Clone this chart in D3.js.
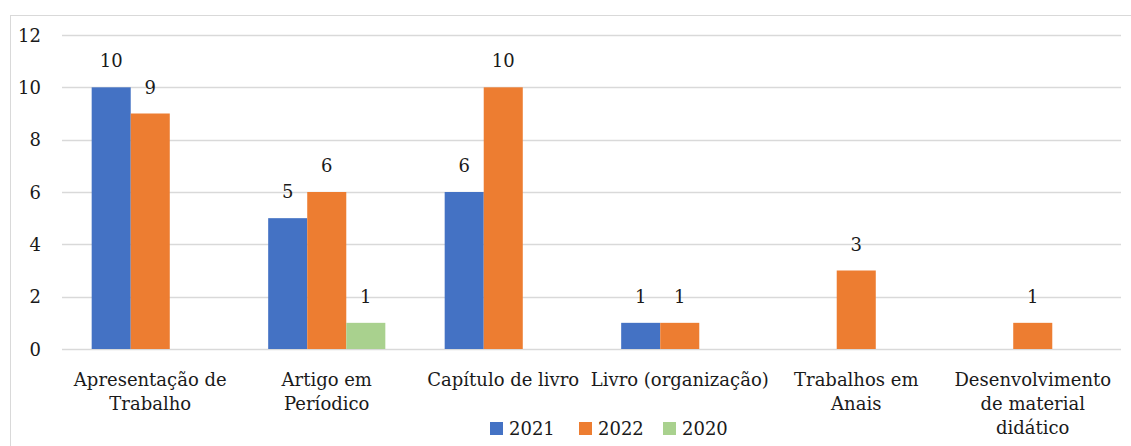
<!DOCTYPE html>
<html>
<head>
<meta charset="utf-8">
<script src="https://cdn.jsdelivr.net/npm/d3@7"></script>
<style>
  html, body { margin: 0; padding: 0; background: #fff; }
  svg text { font-family: "DejaVu Serif", "Liberation Serif", serif; fill: #1a1a1a; }
</style>
</head>
<body>
<svg id="chart" width="1131" height="446"></svg>
<script>
// Publication categories (each line of a label is a separate entry)
const categories = [
  ["Apresentação de", "Trabalho"],
  ["Artigo em", "Períodico"],
  ["Capítulo de livro"],
  ["Livro (organização)"],
  ["Trabalhos em", "Anais"],
  ["Desenvolvimento", "de material", "didático"]
];
const seriesNames = ["2021", "2022", "2020"];
const values2021 = [10, 5, 6, 1, null, null];
const values2022 = [9, 6, 10, 1, 3, 1];
const values2020 = [null, 1, null, null, null, null];
const yTicks = [0, 2, 4, 6, 8, 10, 12];
const colors = ["#4472C4", "#ED7D31", "#A9D18E"];

const seriesValues = [values2021, values2022, values2020];

const svg = d3.select("#chart");
const plot = { left: 62, right: 1121, top: 35, bottom: 349 };
const fs = "18px";

// Outer chart frame
svg.append("rect")
  .attr("x", 10.5).attr("y", 15.5)
  .attr("width", 1130).attr("height", 440)
  .attr("fill", "none").attr("stroke", "#d9d9d9").attr("stroke-width", 1);

const x = d3.scaleBand()
  .domain(d3.range(categories.length))
  .range([plot.left, plot.right]);

const x1 = d3.scaleBand()
  .domain(seriesNames)
  .range([0, x.bandwidth()])
  .paddingInner(0)
  .paddingOuter(0.76);

const y = d3.scaleLinear().domain([0, 12]).range([plot.bottom, plot.top]);

// Horizontal gridlines
svg.append("g")
  .selectAll("line")
  .data(yTicks)
  .join("line")
  .attr("x1", plot.left).attr("x2", plot.right)
  .attr("y1", d => Math.round(y(d)) + 0.5).attr("y2", d => Math.round(y(d)) + 0.5)
  .attr("stroke", "#d9d9d9").attr("stroke-width", 1.3);

// Y axis tick labels
const yAxis = d3.axisLeft(y).tickValues(yTicks).tickSize(0).tickPadding(0);
const gy = svg.append("g").attr("transform", `translate(${plot.left - 21},0)`).call(yAxis);
gy.select(".domain").remove();
gy.selectAll("text")
  .attr("text-anchor", "end")
  .attr("dy", "0.35em")
  .style("font-family", '"DejaVu Serif", serif')
  .style("font-size", fs)
  .attr("fill", "#1a1a1a");

// Bars and value labels
const groups = svg.append("g")
  .selectAll("g")
  .data(categories.map((c, i) => i))
  .join("g")
  .attr("transform", i => `translate(${x(i)},0)`);

groups.each(function(i) {
  const g = d3.select(this);
  const items = seriesNames.map((s, k) => ({ s, k, v: seriesValues[k][i] }))
    .filter(d => d.v != null);
  g.selectAll("rect")
    .data(items)
    .join("rect")
    .attr("x", d => x1(d.s))
    .attr("width", x1.bandwidth())
    .attr("y", d => y(d.v))
    .attr("height", d => y(0) - y(d.v))
    .attr("fill", d => colors[d.k]);
  g.selectAll("text.val")
    .data(items)
    .join("text")
    .attr("class", "val")
    .attr("x", d => x1(d.s) + x1.bandwidth() / 2)
    .attr("y", d => y(d.v) - 20)
    .attr("text-anchor", "middle")
    .style("font-size", fs)
    .text(d => d.v);
});

// Category labels
const cat = svg.append("g");
categories.forEach((lines, i) => {
  const t = cat.append("text")
    .attr("x", x(i) + x.bandwidth() / 2)
    .attr("y", 386)
    .attr("text-anchor", "middle")
    .style("font-size", fs);
  lines.forEach((ln, j) => {
    t.append("tspan")
      .attr("x", x(i) + x.bandwidth() / 2)
      .attr("dy", j === 0 ? 0 : 24)
      .text(ln);
  });
});

// Legend
const legendX = [490, 579, 663];
const legend = svg.append("g");
seriesNames.forEach((s, k) => {
  legend.append("rect")
    .attr("x", legendX[k]).attr("y", 422)
    .attr("width", 13).attr("height", 13)
    .attr("fill", colors[k]);
  legend.append("text")
    .attr("x", legendX[k] + 19).attr("y", 435)
    .style("font-size", fs)
    .text(s);
});
</script>
</body>
</html>
